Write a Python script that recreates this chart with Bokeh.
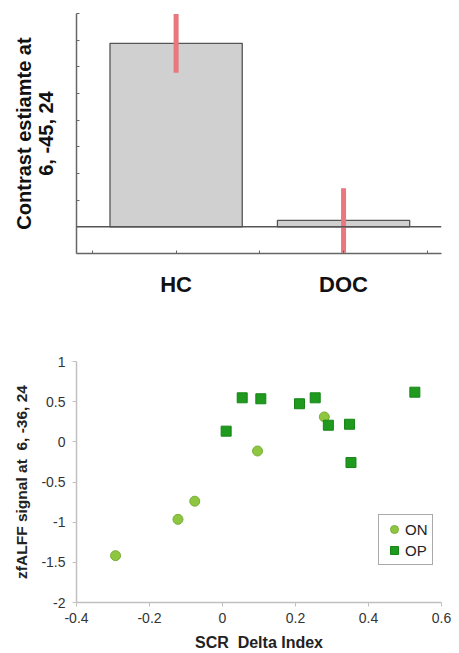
from bokeh.plotting import figure
from bokeh.layouts import column
from bokeh.models import (Range1d, FixedTicker, CustomJSTickFormatter, Span,
                          Legend, LegendItem, ColumnDataSource)
from bokeh.embed import file_html
from bokeh.resources import INLINE

# ---------------- data ----------------
groups = ["HC", "DOC"]
group_pos = [1, 3]
contrast = [6.88, 0.24]
contrast_err = [1.1, 1.21]

on_x = [-0.293, -0.122, -0.076, 0.096, 0.279]
on_y = [-1.417, -0.965, -0.739, -0.114, 0.31]

op_x = [0.010, 0.054, 0.105, 0.211, 0.254, 0.290, 0.348, 0.352, 0.527]
op_y = [0.133, 0.548, 0.536, 0.474, 0.548, 0.207, 0.219, -0.258, 0.618]

x_ticks = [-0.4, -0.2, 0, 0.2, 0.4, 0.6]
x_tick_labels = ["-0.4", "-0.2", "0", "0.2", "0.4", "0.6"]
y_ticks = [-2, -1.5, -1, -0.5, 0, 0.5, 1]
y_tick_labels = ["-2", "-1.5", "-1", "-0.5", "0", "0.5", "1"]

FONT = "Liberation Sans"

def mapper(ticks, labels):
    return CustomJSTickFormatter(
        args=dict(tv=list(ticks), tl=list(labels)),
        code="""
        for (let i = 0; i < tv.length; i++) {
            if (Math.abs(tv[i] - tick) < 1e-9) { return tl[i]; }
        }
        return '';
        """)

# ---------------- top bar chart ----------------
p1 = figure(width=459, height=323, output_backend="svg", toolbar_location=None,
            x_range=Range1d(-0.19, 4.17), y_range=Range1d(-1, 8),
            min_border_left=75, min_border_right=18, min_border_top=13,
            min_border_bottom=70)
p1.outline_line_color = None
p1.xgrid.grid_line_color = None
p1.ygrid.grid_line_color = None

src = ColumnDataSource(dict(
    x=group_pos, top=contrast,
    lo=[c - e for c, e in zip(contrast, contrast_err)],
    hi=[c + e for c, e in zip(contrast, contrast_err)]))

p1.vbar(x="x", top="top", bottom=0, width=1.58, source=src,
        fill_color="#d0d0d0", line_color="#555555", line_width=1.3)
p1.add_layout(Span(location=0, dimension="width", line_color="#555555",
                   line_width=1.5))
p1.segment(x0="x", y0="lo", x1="x", y1="hi", source=src,
           line_color="#e8787e", line_width=5)

ya = p1.yaxis[0]
ya.ticker = FixedTicker(ticks=list(range(-1, 9)))
ya.formatter = mapper([], [])
ya.major_tick_in = 3
ya.major_tick_out = 0
ya.minor_tick_line_color = None
ya.axis_line_color = "#666666"
ya.axis_line_width = 1.5
ya.major_tick_line_color = "#666666"
ya.major_label_standoff = 0
ya.axis_label = "Contrast estiamte at\n6, -45, 24"
ya.axis_label_text_font = FONT
ya.axis_label_text_font_style = "bold"
ya.axis_label_text_font_size = "20px"
ya.axis_label_text_color = "#111111"
ya.axis_label_text_line_height = 1.0
ya.axis_label_standoff = 20

xa = p1.xaxis[0]
xa.ticker = FixedTicker(ticks=[0, 1, 2, 3, 4])
xa.formatter = mapper(group_pos, groups)
xa.major_tick_in = 3
xa.major_tick_out = 0
xa.minor_tick_line_color = None
xa.axis_line_color = "#666666"
xa.axis_line_width = 1.5
xa.major_tick_line_color = "#666666"
xa.major_label_standoff = 18
xa.major_label_text_font = FONT
xa.major_label_text_font_style = "bold"
xa.major_label_text_font_size = "22px"
xa.major_label_text_color = "#111111"

# ---------------- bottom scatter ----------------
p2 = figure(width=459, height=330, output_backend="svg", toolbar_location=None,
            x_range=Range1d(-0.4, 0.6), y_range=Range1d(-2, 1),
            min_border_left=76, min_border_right=9, min_border_top=38,
            min_border_bottom=49)
p2.outline_line_color = None
p2.xgrid.grid_line_color = None
p2.ygrid.grid_line_color = None

r_on = p2.scatter(on_x, on_y, marker="circle", size=10,
                  fill_color="#8fc63f", line_color="#7aae3a", line_width=1)
r_op = p2.scatter(op_x, op_y, marker="square", size=10,
                  fill_color="#1f9a1f", line_color="#168516", line_width=1)

for ax, ticks, labels in ((p2.xaxis[0], x_ticks, x_tick_labels),
                          (p2.yaxis[0], y_ticks, y_tick_labels)):
    ax.ticker = FixedTicker(ticks=ticks)
    ax.formatter = mapper(ticks, labels)
    ax.minor_tick_line_color = None
    ax.major_tick_in = 0
    ax.major_tick_out = 4
    ax.axis_line_color = "#c0c0c0"
    ax.axis_line_width = 1.5
    ax.major_tick_line_color = "#c0c0c0"
    ax.major_label_text_font = FONT
    ax.major_label_text_font_size = "14px"
    ax.major_label_text_color = "#333333"
    ax.axis_label_text_font = FONT
    ax.axis_label_text_font_style = "bold"
    ax.axis_label_text_color = "#222222"

p2.yaxis[0].major_label_standoff = 7
p2.xaxis[0].major_label_standoff = 6
p2.yaxis[0].axis_label = "zfALFF signal at\u00a0 6, -36, 24"
p2.yaxis[0].axis_label_text_font_size = "15.5px"
p2.yaxis[0].axis_label_standoff = 8
p2.xaxis[0].axis_label = "SCR\u00a0 Delta Index"
p2.xaxis[0].axis_label_text_font_size = "16px"
p2.xaxis[0].axis_label_standoff = 8

legend = Legend(items=[LegendItem(label="ON", renderers=[r_on]),
                       LegendItem(label="OP", renderers=[r_op])],
                location=(302, 37))
legend.label_text_font = FONT
legend.label_text_font_size = "15px"
legend.label_text_color = "#222222"
legend.border_line_color = "#555555"
legend.border_line_width = 1.5
legend.glyph_width = 22
legend.glyph_height = 20
legend.label_standoff = 0
legend.padding = 4
legend.spacing = 1
legend.margin = 0
legend.label_height = 20
p2.add_layout(legend, "center")

layout = column(p1, p2, spacing=0)
open("out.html", "w").write(file_html(layout, INLINE))
